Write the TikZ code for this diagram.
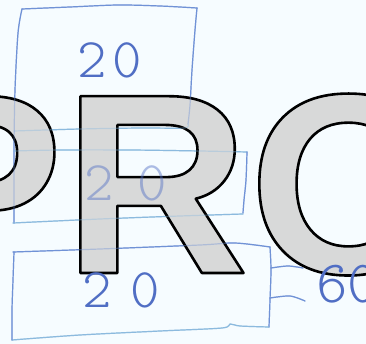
\documentclass[tikz,border=0pt]{standalone}
\usepackage{fontspec}
\setmainfont{Liberation Sans}
\newfontfamily\profont{Liberation Sans Bold}
\newfontfamily\handfont{lmmonolt10-regular.otf}
\definecolor{bgc}{RGB}{246,252,255}
\definecolor{penblue}{RGB}{112,146,214}
\definecolor{pencyan}{RGB}{140,186,222}
\definecolor{inkblue}{RGB}{80,110,196}
\definecolor{profill}{RGB}{216,217,217}
\tikzset{
  pen/.style={draw=penblue, line width=1.2pt, line cap=round, line join=round},
  penc/.style={draw=pencyan, line width=1.2pt, line cap=round, line join=round},
  hand/.style={text=inkblue, font=\handfont\fontsize{56}{56}\selectfont, inner sep=0pt},
  protext/.style={anchor=base west, inner sep=0pt, text=profill, font=\profont\fontsize{257}{257}\selectfont}
}
\newcommand\sketchlines{%
  \draw[pen] plot[smooth] coordinates {(22,9)(70,7)(118,5)(160,6)(197,8)};
  \draw[pen] plot[smooth] coordinates {(197,8)(195,30)(192,70)(190,105)(188,124)};
  \draw[penc] plot[smooth] coordinates {(188,124)(184,128)(140,128)(80,129)(14,131)};
  \draw[pen] plot[smooth] coordinates {(22,9)(18,33)(15,90)(14,150)(14,223)};
  \draw[penc] plot[smooth] coordinates {(14,151)(60,150)(130,150)(200,151)(247,152)};
  \draw[pen] plot[smooth] coordinates {(247,152)(246,180)(244,200)(243,213)};
  \draw[penc] plot[smooth] coordinates {(243,214)(180,216)(100,219)(13,223)};
  \draw[pen] plot[smooth] coordinates {(13,252)(100,249)(200,245)(235,243)(270,247)};
  \draw[pen] plot[smooth] coordinates {(270,247)(271,270)(270,300)(269,327)};
  \draw[penc] plot[smooth] coordinates {(269,327)(240,326)(230,324)(222,328)(160,331)(80,335)(12,340)};
  \draw[pen] plot[smooth] coordinates {(12,340)(12,310)(13,280)(14,252)};
  \draw[pen] plot[smooth] coordinates {(271,268)(288,266)(303,268)};
  \draw[pen] plot[smooth] coordinates {(270,298)(290,296)(305,301)};
}
\begin{document}
\begin{tikzpicture}[x=1pt,y=-1pt]
\useasboundingbox (0,0) rectangle (366,344);
\fill[bgc] (0,0) rectangle (366,344);
% hand-drawn boxes and connectors
\sketchlines
% watermark
\node[protext] (pro) at (-108.4,273) {\special{pdf:literal direct 0 0 0 RG 2.6 w 1 j 2 Tr}PRO\special{pdf:literal direct 0 Tr}};
% the sketch showing faintly through the watermark
\begin{scope}[opacity=0.4]
\sketchlines
\end{scope}
% handwritten numbers
\node[hand] (t1) at (110,60) {2\kern6pt0};
\node[hand, text opacity=0.45] (t2) at (126,183) {2\kern24pt0};
\node[hand] (t3) at (121,290) {2\kern19pt0};
\node[hand, font=\handfont\fontsize{60}{60}\selectfont, anchor=base west] (t4) at (316,302) {60};
\end{tikzpicture}
\end{document}
